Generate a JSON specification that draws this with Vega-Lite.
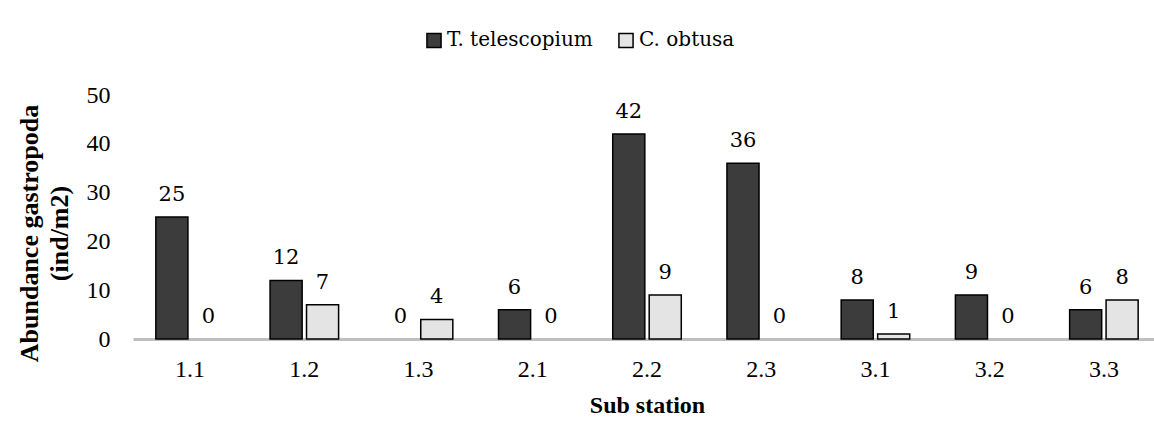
{
  "$schema": "https://vega.github.io/schema/vega-lite/v6.json",
  "autosize": "none",
  "width": 1028,
  "height": 244,
  "padding": {"left": 133, "top": 95, "right": 0, "bottom": 87},
  "background": "white",
  "config": {
    "view": {"stroke": null},
    "style": {"lbl": {"font": "DejaVu Serif", "fontSize": 21, "fill": "#000000"}}
  },
  "data": {
    "values": [
      {"station": "1.1", "species": "T. telescopium", "value": 25},
      {"station": "1.1", "species": "C. obtusa", "value": 0},
      {"station": "1.2", "species": "T. telescopium", "value": 12},
      {"station": "1.2", "species": "C. obtusa", "value": 7},
      {"station": "1.3", "species": "T. telescopium", "value": 0},
      {"station": "1.3", "species": "C. obtusa", "value": 4},
      {"station": "2.1", "species": "T. telescopium", "value": 6},
      {"station": "2.1", "species": "C. obtusa", "value": 0},
      {"station": "2.2", "species": "T. telescopium", "value": 42},
      {"station": "2.2", "species": "C. obtusa", "value": 9},
      {"station": "2.3", "species": "T. telescopium", "value": 36},
      {"station": "2.3", "species": "C. obtusa", "value": 0},
      {"station": "3.1", "species": "T. telescopium", "value": 8},
      {"station": "3.1", "species": "C. obtusa", "value": 1},
      {"station": "3.2", "species": "T. telescopium", "value": 9},
      {"station": "3.2", "species": "C. obtusa", "value": 0},
      {"station": "3.3", "species": "T. telescopium", "value": 6},
      {"station": "3.3", "species": "C. obtusa", "value": 8}
    ]
  },
  "encoding": {
    "x": {
      "field": "station",
      "type": "nominal",
      "scale": {"paddingInner": 0.4, "paddingOuter": 0.2},
      "axis": {
        "title": "Sub station",
        "titleFont": "Liberation Serif",
        "titleFontSize": 24,
        "titleFontWeight": "bold",
        "titleColor": "#000000",
        "titlePadding": 12,
        "labelAngle": 0,
        "labelFont": "Liberation Serif",
        "labelFontSize": 24,
        "labelColor": "#000000",
        "labelPadding": 18,
        "ticks": false,
        "tickSize": 0,
        "domainColor": "#bfbfbf",
        "domainWidth": 3,
        "grid": false
      }
    },
    "xOffset": {
      "field": "species",
      "type": "nominal",
      "sort": ["T. telescopium", "C. obtusa"],
      "scale": {"paddingInner": 0.12}
    },
    "y": {
      "field": "value",
      "type": "quantitative",
      "scale": {"domain": [0, 50], "nice": false},
      "axis": {
        "title": ["Abundance gastropoda", "(ind/m2)"],
        "titleFont": "Liberation Serif",
        "titleFontSize": 26,
        "titleFontWeight": "bold",
        "titleColor": "#000000",
        "titleLineHeight": 30,
        "titlePadding": 14,
        "titleY": 138,
        "values": [0, 10, 20, 30, 40, 50],
        "labelFont": "Liberation Serif",
        "labelFontSize": 24,
        "labelColor": "#000000",
        "labelPadding": 23,
        "ticks": false,
        "tickSize": 0,
        "domain": false,
        "grid": false
      }
    }
  },
  "layer": [
    {
      "transform": [{"filter": "datum.value > 0"}],
      "mark": {"type": "bar", "stroke": "#000000", "strokeWidth": 1.5},
      "encoding": {
        "color": {
          "field": "species",
          "type": "nominal",
          "sort": ["T. telescopium", "C. obtusa"],
          "scale": {"domain": ["T. telescopium", "C. obtusa"], "range": ["#3c3c3c", "#e4e4e4"]},
          "legend": {
            "title": null,
            "orient": "none",
            "legendX": 291,
            "legendY": -65,
            "direction": "horizontal",
            "symbolType": "square",
            "symbolSize": 200,
            "symbolStrokeColor": "#000000",
            "symbolStrokeWidth": 1.5,
            "labelFont": "DejaVu Serif",
            "labelFontSize": 20,
            "labelLimit": 300,
            "labelColor": "#000000",
            "labelOffset": 3,
            "columnPadding": 22,
            "padding": 0
          }
        }
      }
    },
    {
      "mark": {"type": "text", "style": "lbl", "baseline": "bottom", "dy": -12},
      "encoding": {
        "text": {"field": "value", "type": "quantitative"}
      }
    }
  ]
}
